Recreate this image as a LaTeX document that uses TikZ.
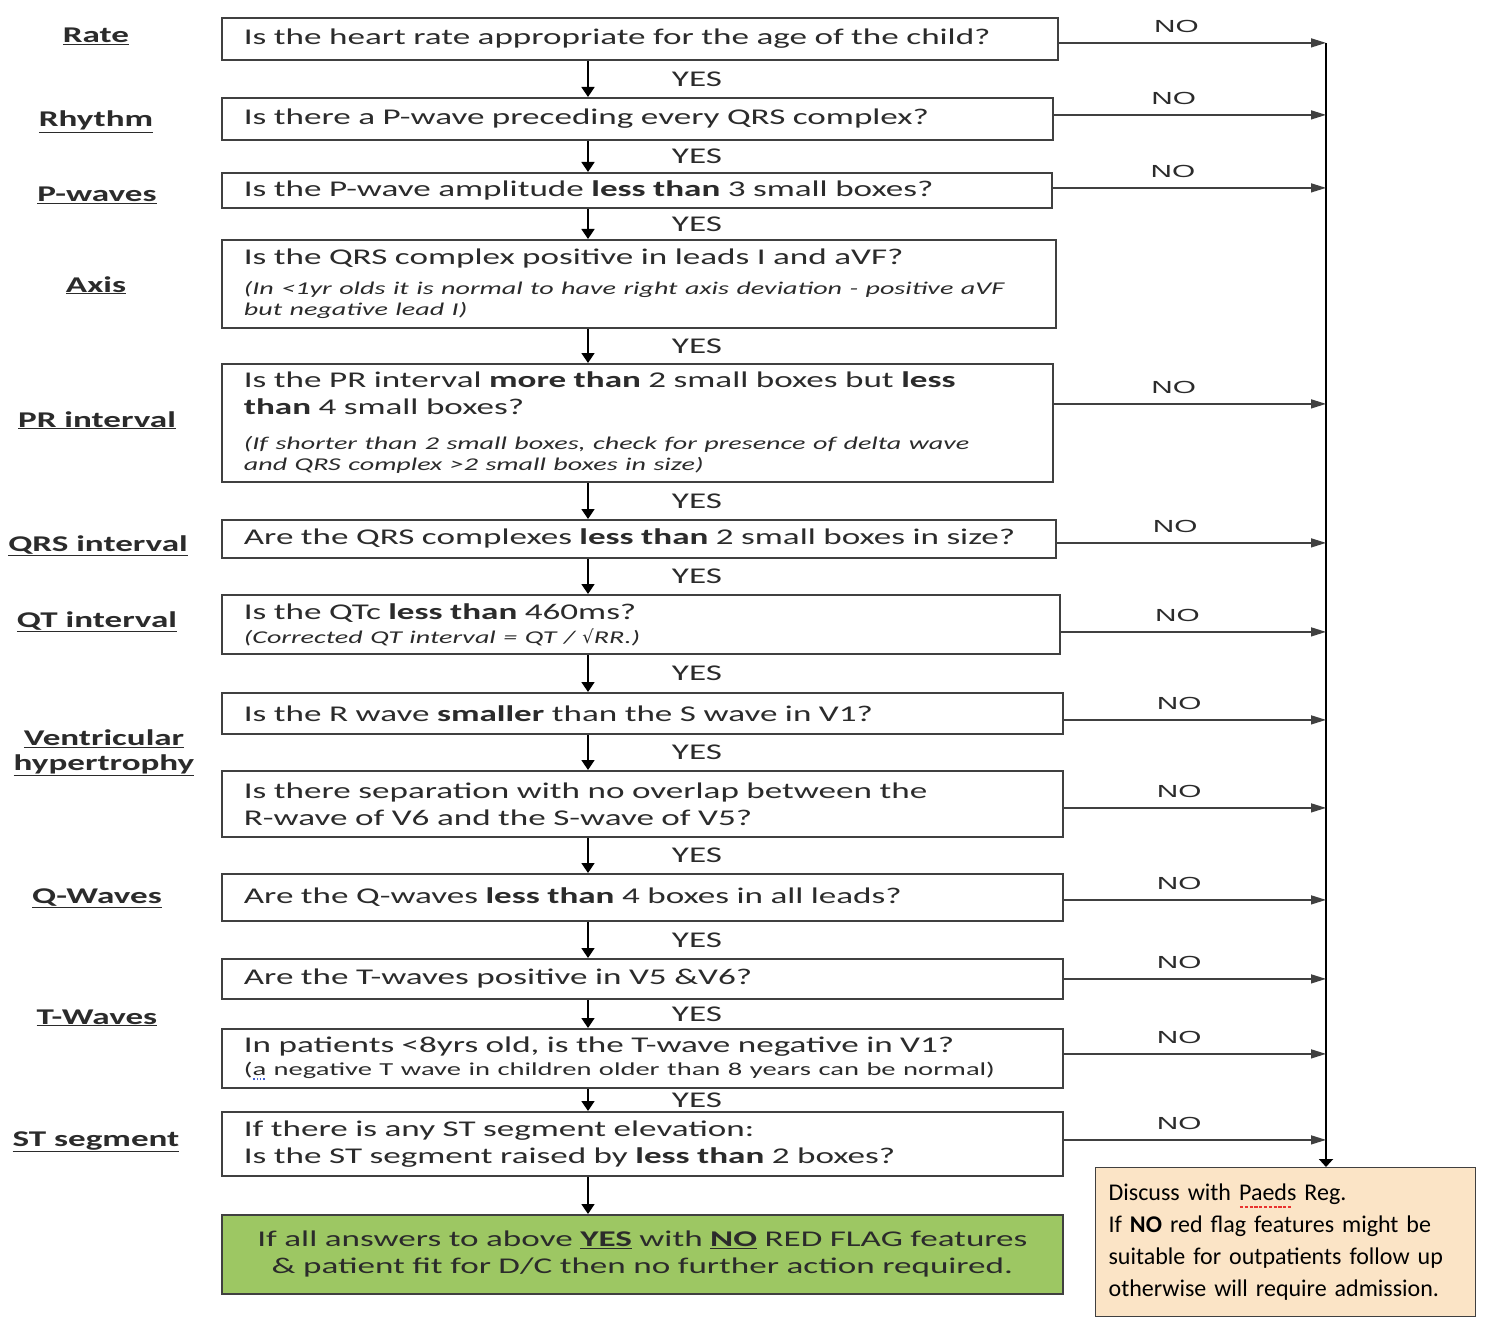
\documentclass[tikz,border=0pt]{standalone}
\usepackage{fontspec}
\setmainfont{Carlito}[FakeStretch=1.56]
\newfontfamily\calibri{Carlito}
\newfontfamily\arialwide{Liberation Sans}[FakeStretch=1.7]
\newfontfamily\rootsym{DejaVu Sans}
\usepackage{xcolor}
\usepackage{tikz}
\usetikzlibrary{positioning,arrows.meta,calc}
\definecolor{ecgLine}{HTML}{404040}
\definecolor{ecgText}{HTML}{2B2B2B}
\definecolor{ecgGreen}{HTML}{9DC763}
\definecolor{ecgPeach}{HTML}{FBE4C6}
\definecolor{ecgRed}{HTML}{E8322E}
\definecolor{ecgBlue}{HTML}{4060D0}
\definecolor{ecgWhite}{HTML}{FFFFFF}
\newcommand\qsize{\fontsize{22.5}{27}\selectfont}
\newcommand\nsize{\fontsize{18}{21}\selectfont}
\newcommand\spellmark[4]{\setbox0\hbox{#4}\rlap{\raisebox{#2}{\textcolor{#1}{%
  \leaders\hbox{\kern0.8pt\rule{#3}{1.8pt}\kern0.8pt}\hskip\wd0}}}\box0\relax}
\tikzset{
  ecg-box/.style={
    draw=ecgLine, line width=1.8pt, fill=ecgWhite, anchor=north west,
    align=left, inner xsep=22pt, inner ysep=0pt, font=\qsize, text=ecgText
  },
  ecg-pass/.style={ecg-box, fill=ecgGreen, align=center},
  ecg-advice/.style={draw=ecgLine, line width=1.2pt, fill=ecgPeach,
    anchor=north west, align=left, inner xsep=13pt, inner ysep=0pt,
    font=\calibri\fontsize{24}{31.7}\selectfont, text=black},
  ecg-cat/.style={anchor=base, inner sep=0pt, align=center,
    font=\qsize\bfseries, text=ecgText},
  ecg-flow/.style={-{Triangle[length=10pt,width=13pt]}, line width=1.6pt, draw=black},
  ecg-no/.style={-{Triangle[length=15pt,width=9pt]}, line width=1.4pt, draw=ecgLine},
  ecg-trunk/.style={-{Triangle[length=8pt,width=14pt]}, line width=2pt, draw=black},
  ecg-yes/.style={midway, xshift=109pt, inner sep=0pt, font=\qsize, text=ecgText},
  ecg-nolbl/.style={pos=0.44, above=10pt, inner sep=0pt,
    font=\arialwide\fontsize{17.5}{20}\selectfont, text=ecgText}
}

\begin{document}
\begin{tikzpicture}[x=1pt, y=-1pt]
\useasboundingbox (0,0) rectangle (1488,1340);
\coordinate (ax) at (588,0);
\coordinate (trunk) at (1326,0);

% Left headings
\node[ecg-cat] (lblRate) at (96,43) {\underline{Rate}};
\node[ecg-cat] (lblRhythm) at (96,127) {\underline{Rhythm}};
\node[ecg-cat] (lblPwave) at (97,202) {\underline{P-waves}};
\node[ecg-cat] (lblAxis) at (96,292) {\underline{Axis}};
\node[ecg-cat] (lblPR) at (97,427) {\underline{PR interval}};
\node[ecg-cat] (lblQRS) at (98,551) {\underline{QRS interval}};
\node[ecg-cat] (lblQT) at (97,627) {\underline{QT interval}};
\node[ecg-cat, font=\fontsize{22.5}{24.5}\selectfont\bfseries] (lblVH) at (104,770)
  {\underline{Ventricular}\\\underline{hypertrophy}};
\node[ecg-cat] (lblQwave) at (97,903) {\underline{Q-Waves}};
\node[ecg-cat] (lblTwave) at (97,1024) {\underline{T-Waves}};
\node[ecg-cat] (lblST) at (96,1146) {\underline{ST segment}};

% Questions
\node[ecg-box, minimum width=836pt, minimum height=42pt, text width=792pt] (rate) at (221,17)
  {Is the heart rate appropriate for the age of the child?};
\node[ecg-box, minimum width=831pt, minimum height=42pt, text width=787pt] (rhythm) at (221,97)
  {Is there a P-wave preceding every QRS complex?};
\node[ecg-box, minimum width=830pt, minimum height=35pt, text width=786pt] (pwave) at (221,172)
  {Is the P-wave amplitude \textbf{less than} 3 small boxes?};
\node[ecg-box, minimum width=834pt, minimum height=88pt, text width=790pt] (axis) at (221,239)
  {Is the QRS complex positive in leads I and aVF?\par\vspace{9pt}
  {\nsize\itshape (In <1yr olds it is normal to have right axis deviation - positive aVF\\
  but negative lead I)\par}};
\node[ecg-box, minimum width=831pt, minimum height=118pt, text width=787pt] (pr) at (221,363)
  {Is the PR interval \textbf{more than} 2 small boxes but \textbf{less}\\
  \textbf{than} 4 small boxes?\par\vspace{14pt}
  {\nsize\itshape (If shorter than 2 small boxes, check for presence of delta wave\\
  and QRS complex >2 small boxes in size)\par}};
\node[ecg-box, minimum width=834pt, minimum height=38pt, text width=790pt] (qrs) at (221,519)
  {Are the QRS complexes \textbf{less than} 2 small boxes in size?};
\node[ecg-box, minimum width=838pt, minimum height=59pt, text width=794pt] (qt) at (221,594)
  {Is the QTc \textbf{less than} 460ms?\par\vspace{3pt}
  {\nsize\itshape (Corrected QT interval = QT / {\rootsym\upshape √}RR.)\par}};
\node[ecg-box, minimum width=841pt, minimum height=41pt, text width=797pt] (rwave) at (221,692)
  {Is the R wave \textbf{smaller} than the S wave in V1?};
\node[ecg-box, minimum width=841pt, minimum height=66pt, text width=797pt] (sep) at (221,770)
  {Is there separation with no overlap between the\\
  R-wave of V6 and the S-wave of V5?};
\node[ecg-box, minimum width=841pt, minimum height=47pt, text width=797pt] (qwave) at (221,873)
  {Are the Q-waves \textbf{less than} 4 boxes in all leads?};
\node[ecg-box, minimum width=841pt, minimum height=40pt, text width=797pt] (twave) at (221,958)
  {Are the T-waves positive in V5 \&V6?};
\node[ecg-box, minimum width=841pt, minimum height=59pt, text width=797pt] (neg) at (221,1028)
  {In patients <8yrs old, is the T-wave negative in V1?\par\vspace{2pt}
  {\fontsize{18.3}{21}\selectfont (\spellmark{ecgBlue}{-5pt}{1.6pt}{a} negative T wave in children older than 8 years can be normal)\par}};
\node[ecg-box, minimum width=841pt, minimum height=64pt, text width=797pt] (st) at (221,1111)
  {If there is any ST segment elevation:\\
  Is the ST segment raised by \textbf{less than} 2 boxes?};
\node[ecg-pass, minimum width=841pt, minimum height=79pt, text width=797pt] (pass) at (221,1214)
  {If all answers to above \underline{\textbf{YES}} with \underline{\textbf{NO}} RED FLAG features\\
  \& patient fit for D/C then no further action required.};

% Escalation
\node[ecg-advice, minimum width=380pt, minimum height=149pt, text width=354pt] (advice) at (1095,1167)
  {Discuss with \spellmark{ecgRed}{-7pt}{3.2pt}{Paeds} Reg.\\
  If \textbf{NO} red flag features might be\\
  suitable for outpatients follow up\\
  otherwise will require admission.};

% YES chain
\draw[ecg-flow] (rate.south -| ax) -- (rhythm.north -| ax) node[ecg-yes] {YES};
\draw[ecg-flow] (rhythm.south -| ax) -- (pwave.north -| ax) node[ecg-yes] {YES};
\draw[ecg-flow] (pwave.south -| ax) -- (axis.north -| ax) node[ecg-yes] {YES};
\draw[ecg-flow] (axis.south -| ax) -- (pr.north -| ax) node[ecg-yes] {YES};
\draw[ecg-flow] (pr.south -| ax) -- (qrs.north -| ax) node[ecg-yes] {YES};
\draw[ecg-flow] (qrs.south -| ax) -- (qt.north -| ax) node[ecg-yes] {YES};
\draw[ecg-flow] (qt.south -| ax) -- (rwave.north -| ax) node[ecg-yes] {YES};
\draw[ecg-flow] (rwave.south -| ax) -- (sep.north -| ax) node[ecg-yes] {YES};
\draw[ecg-flow] (sep.south -| ax) -- (qwave.north -| ax) node[ecg-yes] {YES};
\draw[ecg-flow] (qwave.south -| ax) -- (twave.north -| ax) node[ecg-yes] {YES};
\draw[ecg-flow] (twave.south -| ax) -- (neg.north -| ax) node[ecg-yes] {YES};
\draw[ecg-flow] (neg.south -| ax) -- (st.north -| ax) node[ecg-yes] {YES};
\draw[ecg-flow] (st.south -| ax) -- (pass.north -| ax);

% NO branch
\draw[ecg-trunk] ([yshift=-4pt]rate.east -| trunk) -- (advice.north -| trunk);
\draw[ecg-no] ([yshift=-4pt]rate.east) -- ([yshift=-4pt]rate.east -| trunk) node[ecg-nolbl] {NO};
\draw[ecg-no] ([yshift=4pt]rhythm.east) -- ([yshift=4pt]rhythm.east -| trunk) node[ecg-nolbl] {NO};
\draw[ecg-no] ([yshift=2.5pt]pwave.east) -- ([yshift=2.5pt]pwave.east -| trunk) node[ecg-nolbl] {NO};
\draw[ecg-no] ([yshift=19pt]pr.east) -- ([yshift=19pt]pr.east -| trunk) node[ecg-nolbl] {NO};
\draw[ecg-no] ([yshift=-4pt]qrs.east) -- ([yshift=-4pt]qrs.east -| trunk) node[ecg-nolbl] {NO};
\draw[ecg-no] ([yshift=-7.5pt]qt.east) -- ([yshift=-7.5pt]qt.east -| trunk) node[ecg-nolbl] {NO};
\draw[ecg-no] ([yshift=-6.5pt]rwave.east) -- ([yshift=-6.5pt]rwave.east -| trunk) node[ecg-nolbl] {NO};
\draw[ecg-no] ([yshift=-4pt]sep.east) -- ([yshift=-4pt]sep.east -| trunk) node[ecg-nolbl] {NO};
\draw[ecg-no] ([yshift=-2.5pt]qwave.east) -- ([yshift=-2.5pt]qwave.east -| trunk) node[ecg-nolbl] {NO};
\draw[ecg-no] (twave.east) -- (twave.east -| trunk) node[ecg-nolbl] {NO};
\draw[ecg-no] ([yshift=4.5pt]neg.east) -- ([yshift=4.5pt]neg.east -| trunk) node[ecg-nolbl] {NO};
\draw[ecg-no] ([yshift=4pt]st.east) -- ([yshift=4pt]st.east -| trunk) node[ecg-nolbl] {NO};
\end{tikzpicture}
\end{document}
